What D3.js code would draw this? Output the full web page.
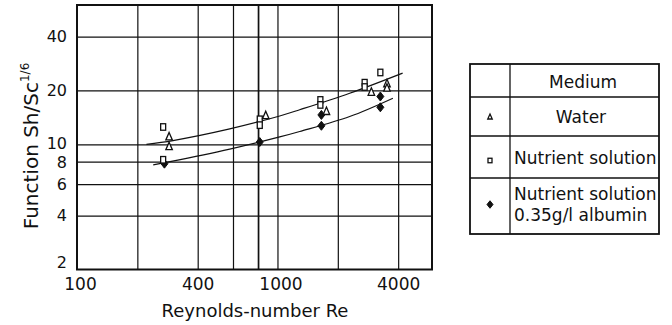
<!DOCTYPE html>
<html>
<head>
<meta charset="utf-8">
<script src="https://cdn.jsdelivr.net/npm/d3@7"></script>
<style>
    body { margin: 0; background: #fff; }
    text { font-family: "DejaVu Sans", sans-serif; fill: #111; }
</style>
</head>
<body>
<div id="chart"></div>
<script>
// readings
const xTicks = [100, 400, 1000, 4000];
const xGrid = [200, 400, 600, 800, 1000, 2000, 4000];
const yTicks = [2, 4, 6, 8, 10, 20, 40];
const yGrid = [4, 6, 8, 10, 20, 40];

const waterRe = [288, 288, 874, 1755, 2940, 3518, 3518];
const waterSh = [11.1, 9.8, 14.6, 15.4, 19.7, 22.0, 20.8];

const nutrientRe = [269, 269, 816, 816, 1637, 1637, 2722, 2722, 3260];
const nutrientSh = [12.5, 8.2, 13.8, 12.8, 17.7, 16.6, 22.1, 20.9, 25.2];

const albuminRe = [273, 816, 1656, 1656, 3260, 3260];
const albuminSh = [7.8, 10.3, 14.6, 12.7, 18.5, 16.1];

// fitted curves
const upperRe = [222, 301, 578, 1026, 1291, 2292, 4210];
const upperSh = [10.0, 10.5, 12.2, 14.4, 15.6, 19.3, 25.0];
const lowerRe = [240, 291, 578, 1026, 1291, 2292, 3767];
const lowerSh = [7.68, 8.0, 9.4, 11.0, 11.8, 14.3, 18.1];

const legendLabels = ["Water", "Nutrient solution", ["Nutrient solution", "0.35g/l albumin"]];

const width = 672, height = 325;
const pLeft = 77, pRight = 432, pTop = 5, pBottom = 269.5;

const svg = d3.select("#chart").append("svg")
    .attr("width", width)
    .attr("height", height);

svg.append("rect").attr("width", width).attr("height", height).attr("fill", "#fff");

const x = d3.scaleLog().domain([100, 5900]).range([pLeft, pRight]);
const y = d3.scaleLog().domain([2, 60]).range([pBottom, pTop]);

// grid
svg.append("g")
    .attr("transform", `translate(0,${pBottom})`)
    .call(d3.axisBottom(x).tickValues(xGrid).tickSize(-(pBottom - pTop)).tickFormat(""))
    .call(g => g.select(".domain").remove())
    .call(g => g.selectAll("line")
        .attr("stroke", "#111")
        .attr("stroke-width", d => d === 800 ? 1.7 : 1.2));

svg.append("g")
    .attr("transform", `translate(${pLeft},0)`)
    .call(d3.axisLeft(y).tickValues(yGrid).tickSize(-(pRight - pLeft)).tickFormat(""))
    .call(g => g.select(".domain").remove())
    .call(g => g.selectAll("line").attr("stroke", "#111").attr("stroke-width", 1.2));

// frame
svg.append("rect")
    .attr("x", pLeft).attr("y", pTop)
    .attr("width", pRight - pLeft).attr("height", pBottom - pTop)
    .attr("fill", "none").attr("stroke", "#111").attr("stroke-width", 2);

// tick labels
svg.append("g")
    .attr("transform", `translate(0,${pBottom})`)
    .call(d3.axisBottom(x).tickValues(xTicks).tickSize(0).tickPadding(8).tickFormat(d3.format("d")))
    .call(g => g.select(".domain").remove())
    .call(g => g.selectAll("text")
        .style("font-family", "DejaVu Sans")
        .attr("font-size", 17)
        .attr("dx", d => d === 100 ? 3 : d === 1000 ? 3 : 0));

const yNudge = { 2: "-0.12em", 8: "0.38em", 10: "0.24em" };
svg.append("g")
    .attr("transform", `translate(${pLeft},0)`)
    .call(d3.axisLeft(y).tickValues(yTicks).tickSize(0).tickPadding(10).tickFormat(d3.format("d")))
    .call(g => g.select(".domain").remove())
    .call(g => g.selectAll("text")
        .style("font-family", "DejaVu Sans")
        .attr("font-size", 16)
        .attr("dy", d => yNudge[d] || "0.32em"));

// axis titles
svg.append("text")
    .attr("x", 255).attr("y", 317)
    .attr("text-anchor", "middle")
    .attr("font-size", 18)
    .text("Reynolds-number Re");

const yTitle = svg.append("text")
    .attr("transform", "translate(38,146) rotate(-90)")
    .attr("text-anchor", "middle")
    .attr("font-size", 20);
yTitle.append("tspan").text("Function Sh/Sc");
yTitle.append("tspan").attr("dy", -9).attr("font-size", 12).text("1/6");

// curves
const line = d3.line()
    .x(d => x(d[0]))
    .y(d => y(d[1]))
    .curve(d3.curveCatmullRom);

[[upperRe, upperSh], [lowerRe, lowerSh]].forEach(([re, sh]) => {
    svg.append("path")
        .datum(d3.zip(re, sh))
        .attr("d", line)
        .attr("fill", "none")
        .attr("stroke", "#111")
        .attr("stroke-width", 1.2);
});

// symbols
function triangle(g, cx, cy, w, h) {
    g.append("path")
        .attr("d", `M${cx},${cy - h / 2}L${cx + w / 2},${cy + h / 2}L${cx - w / 2},${cy + h / 2}Z`)
        .attr("fill", "#fff").attr("stroke", "#111").attr("stroke-width", 1.3);
}
function square(g, cx, cy, w, h) {
    g.append("rect")
        .attr("x", cx - w / 2).attr("y", cy - h / 2)
        .attr("width", w).attr("height", h)
        .attr("fill", "#fff").attr("stroke", "#111").attr("stroke-width", 1.3);
}
function diamond(g, cx, cy, w, h) {
    g.append("path")
        .attr("d", `M${cx},${cy - h / 2}L${cx + w / 2},${cy}L${cx},${cy + h / 2}L${cx - w / 2},${cy}Z`)
        .attr("fill", "#111").attr("stroke", "#111").attr("stroke-width", 1);
}

const marks = svg.append("g");
d3.zip(albuminRe, albuminSh).forEach(d => diamond(marks, x(d[0]), y(d[1]), 7, 9));
d3.zip(nutrientRe, nutrientSh).forEach(d => square(marks, x(d[0]), y(d[1]), 5, 6.5));
d3.zip(waterRe, waterSh).forEach(d => triangle(marks, x(d[0]), y(d[1]), 6.5, 7.5));

// legend table
const lg = svg.append("g");
const lx0 = 470, lx1 = 659, ldiv = 510;
const rows = [64, 97, 136, 178, 234];

lg.append("rect")
    .attr("x", lx0).attr("y", rows[0])
    .attr("width", lx1 - lx0).attr("height", rows[4] - rows[0])
    .attr("fill", "none").attr("stroke", "#111").attr("stroke-width", 1.8);
rows.slice(1, 4).forEach(r => {
    lg.append("line").attr("x1", lx0).attr("x2", lx1).attr("y1", r).attr("y2", r)
        .attr("stroke", "#111").attr("stroke-width", 1.3);
});
lg.append("line").attr("x1", ldiv).attr("x2", ldiv).attr("y1", rows[0]).attr("y2", rows[4])
    .attr("stroke", "#111").attr("stroke-width", 1.3);

lg.append("text").attr("x", 583).attr("y", 88).attr("text-anchor", "middle")
    .attr("font-size", 17).text("Medium");
lg.append("text").attr("x", 581).attr("y", 123).attr("text-anchor", "middle")
    .attr("font-size", 17).text(legendLabels[0]);
lg.append("text").attr("x", 514).attr("y", 164)
    .attr("font-size", 17).text(legendLabels[1]);
legendLabels[2].forEach((t, i) => {
    lg.append("text").attr("x", 514).attr("y", 200 + i * 21)
        .attr("font-size", 17).text(t);
});

triangle(lg, 490, 116.5, 4.5, 5);
square(lg, 490, 160.5, 4, 4.5);
diamond(lg, 490, 204.5, 6, 7.5);
</script>
</body>
</html>
